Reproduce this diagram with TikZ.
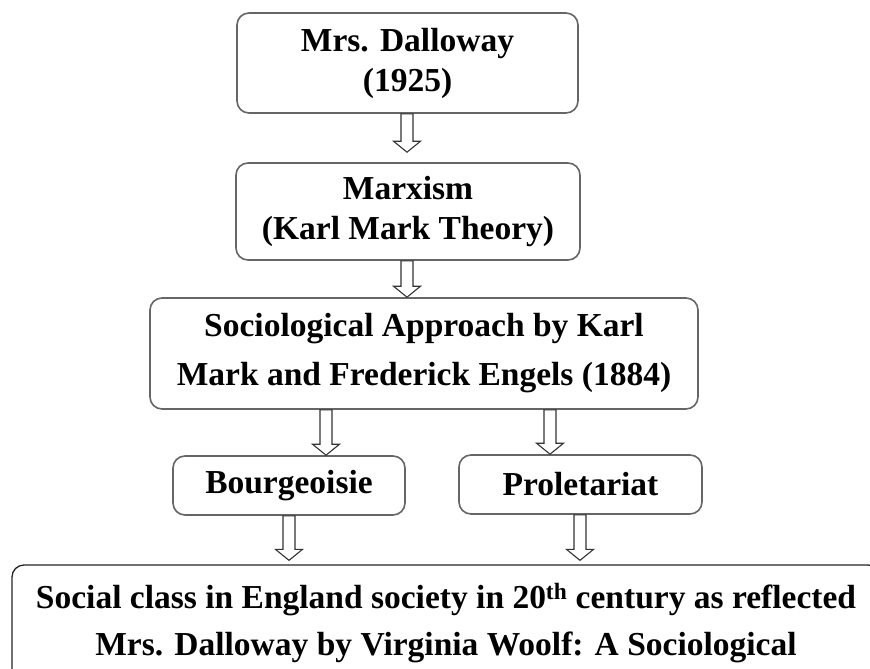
\documentclass[tikz,border=0pt]{standalone}
\usepackage{fontspec}
\setmainfont{Liberation Serif}
\usetikzlibrary{calc}
\tikzset{
  box/.style={draw=black!60, line width=1.6pt, rounded corners=12pt, align=center, inner sep=2pt,
    font=\fontsize{33.5}{47}\selectfont\bfseries},
  tightbox/.style={box, font=\fontsize{33.5}{40}\selectfont\bfseries},
  blockarrow/.style={draw=black!80, line width=1.1pt, fill=white, line join=miter}
}
% hollow down arrow from #1 (top of shaft) to #2 (tip)
\newcommand{\hollowarrow}[2]{%
  \draw[blockarrow] ($(#1)+(-6,0)$) -- ($(#2)+(-6,-11)$) -- ($(#2)+(-13.5,-11)$) -- (#2)
    -- ($(#2)+(13.5,-11)$) -- ($(#2)+(6,-11)$) -- ($(#1)+(6,0)$) -- cycle;}
\begin{document}
\begin{tikzpicture}[x=1pt,y=-1pt]
  \useasboundingbox[fill=white] (0,0) rectangle (870,669);
  \node[tightbox, minimum width=341, minimum height=100] (novel) at (407.5,63) {Mrs. Dalloway\\(1925)};
  \node[tightbox, minimum width=344, minimum height=97] (marx) at (408,211.5) {Marxism\\(Karl Mark Theory)};
  \node[box, font=\fontsize{33.5}{49}\selectfont\bfseries, minimum width=548, minimum height=111]
    (approach) at (424,353.5) {Sociological Approach by Karl\\Mark and Frederick Engels (1884)};
  \node[box, minimum width=232, minimum height=59] (bourg) at (289,485.5) {Bourgeoisie};
  \node[box, minimum width=243, minimum height=59] (prol) at (580.5,484.5) {Proletariat};
  \node[box, draw=black!85, line width=1.3pt, minimum width=868, minimum height=117] (result) at (446,623.5)
    {Social class in England society in 20\textsuperscript{th} century as reflected\\
     Mrs. Dalloway by Virginia Woolf: A Sociological};
  % arrow ends
  \coordinate (a1s) at (novel.south -| 407,0);
  \coordinate (a1e) at ($(marx.north -| 407,0)+(0,-10)$);
  \coordinate (a2s) at (marx.south -| 407,0);
  \coordinate (a2e) at (approach.north -| 407,0);
  \coordinate (a3s) at (approach.south -| 326,0);
  \coordinate (a3e) at (bourg.north -| 326,0);
  \coordinate (a4s) at (approach.south -| 550,0);
  \coordinate (a4e) at (prol.north -| 550,0);
  \coordinate (a5s) at (bourg.south -| 289,0);
  \coordinate (a5e) at ($(result.north -| 289,0)+(0,-4)$);
  \coordinate (a6s) at (prol.south -| 580,0);
  \coordinate (a6e) at ($(result.north -| 580,0)+(0,-4)$);
  \foreach \i in {1,...,6}{
    \hollowarrow{a\i s}{a\i e}
  }
\end{tikzpicture}
\end{document}
